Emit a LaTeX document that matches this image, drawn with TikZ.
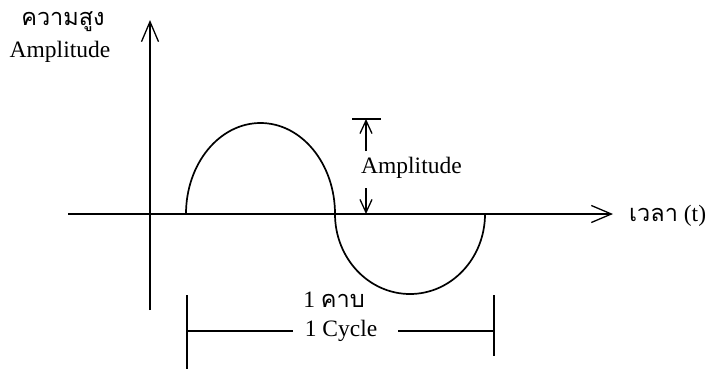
\documentclass[tikz,border=0pt]{standalone}
\usepackage{fontspec}
\setmainfont{Liberation Serif}
\newfontfamily\thaifont[Script=Thai]{Loma}
\usetikzlibrary{arrows.meta}
\begin{document}
\begin{tikzpicture}[x=1pt,y=1pt,
  axis/.style={line width=1.3pt,-{Straight Barb[length=20pt,width=17pt,line width=1.3pt]}},
  wave/.style={line width=1.7pt},
  dim/.style={line width=1.3pt},
  dimarrow/.style={line width=1.3pt,-{Straight Barb[length=13pt,width=12pt,line width=1.3pt]}},
  lbl/.style={inner sep=0pt,font=\fontsize{23.5}{25}\selectfont},
  thlbl/.style={inner sep=0pt,font=\fontsize{23.5}{25}\selectfont}]
\useasboundingbox (0,0) rectangle (711,-370);
% axes
\coordinate (yb) at (150,-310);
\coordinate (yt) at (150,-20);
\coordinate (xl) at (68,-214);
\coordinate (xr) at (613,-214);
\draw[axis] (yb) -- (yt);
\draw[axis] (xl) -- (xr);
% wave
\draw[wave] (186,-214) arc[start angle=180,end angle=0,x radius=74.5,y radius=91];
\draw[wave] (335,-214) arc[start angle=180,end angle=360,x radius=75,y radius=80];
% labels
\node[thlbl] (th1) at (63,-22) {\thaifont ความสูง};
\node[lbl] (amp1) at (60,-52) {Amplitude};
\node[thlbl,anchor=west] (time) at (629,-216) {{\thaifont เวลา} (t)};
% amplitude marker
\coordinate (atop) at (366,-119);
\coordinate (abot) at (366,-214);
\draw[dim] (352,-119) -- (381,-119);
\node[lbl,anchor=west] (amp2) at (361,-168) {Amplitude};
\coordinate (aup) at (366,-151);
\coordinate (adn) at (366,-188);
\draw[dimarrow] (aup) -- (atop);
\draw[dimarrow] (adn) -- (abot);
% cycle
\coordinate (cl1) at (187,-295);
\coordinate (cl2) at (187,-369);
\coordinate (cr1) at (494,-295);
\coordinate (cr2) at (494,-356);
\draw[dim] (cl1) -- (cl2);
\draw[dim] (cr1) -- (cr2);
\node[thlbl] (kab) at (334,-300) {1 {\thaifont คาบ}};
\node[lbl] (cyc) at (341,-331) {1 Cycle};
\coordinate (hl) at (187,-331);
\coordinate (hr) at (494,-331);
\draw[dim] (hl) -- (293,-331);
\draw[dim] (398,-331) -- (hr);
\end{tikzpicture}
\end{document}
